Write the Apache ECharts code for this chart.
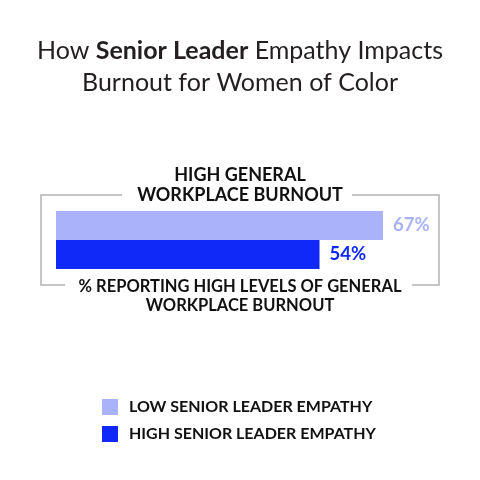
<!DOCTYPE html>
<html>
<head>
<meta charset="utf-8">
<script src="https://cdn.jsdelivr.net/npm/echarts@6/dist/echarts.min.js"></script>
<style>
  html, body { margin: 0; padding: 0; background: #fff; }
  #chart { width: 480px; height: 480px; }
</style>
</head>
<body>
<div id="chart"></div>
<script>
// data
const categories = ['High general workplace burnout'];
const seriesNames = ['LOW SENIOR LEADER EMPATHY', 'HIGH SENIOR LEADER EMPATHY'];
const lowEmpathy = [67];
const highEmpathy = [54];
const colors = ['#aab3f9', '#1028f8'];

const font = 'Lato';
const chart = echarts.init(document.getElementById('chart'));

const labelFor = (c) => ({
    show: true,
    position: 'right',
    distance: 10,
    formatter: '{c}%',
    color: c,
    fontFamily: font,
    fontWeight: 'bold',
    fontSize: 18.5
});

chart.setOption({
    color: colors,
    animation: false,
    title: {
        text: 'How {b|Senior Leader} Empathy Impacts\nBurnout for Women of Color',
        left: 'center',
        top: 30,
        textStyle: {
            fontFamily: font,
            fontSize: 25,
            fontWeight: 'normal',
            color: '#231f20',
            lineHeight: 32,
            rich: {
                b: { fontFamily: font, fontSize: 25, fontWeight: 'bold', color: '#231f20' }
            }
        }
    },
    legend: {
        data: seriesNames,
        orient: 'vertical',
        left: 97,
        top: 394,
        icon: 'rect',
        itemWidth: 16,
        itemHeight: 16,
        itemGap: 11,
        textStyle: { fontFamily: font, fontWeight: 'bold', fontSize: 16, color: '#111', padding: [0, 0, 0, 6] }
    },
    grid: { left: 56, right: 33.6, top: 211, height: 58 },
    xAxis: { type: 'value', min: 0, max: 80, show: false },
    yAxis: { type: 'category', data: categories, inverse: true, show: false },
    series: [
        { name: seriesNames[0], type: 'bar', data: lowEmpathy, barGap: '0%', barCategoryGap: '0%', label: labelFor(colors[0]) },
        { name: seriesNames[1], type: 'bar', data: highEmpathy, barGap: '0%', barCategoryGap: '0%', label: labelFor(colors[1]) }
    ],
    graphic: [
        { type: 'polyline', shape: { points: [[122, 195], [41, 195], [41, 285], [65, 285]] }, style: { stroke: '#b3b3b3', lineWidth: 1.5, fill: null } },
        { type: 'polyline', shape: { points: [[352, 195], [439, 195], [439, 285], [412, 285]] }, style: { stroke: '#b3b3b3', lineWidth: 1.5, fill: null } },
        { type: 'text', x: 240, y: 185, style: { text: 'HIGH GENERAL\nWORKPLACE BURNOUT', fontFamily: font, fontWeight: 'bold', fontSize: 18, lineHeight: 20, fill: '#111', align: 'center', verticalAlign: 'middle' } },
        { type: 'text', x: 240, y: 296, style: { text: '% REPORTING HIGH LEVELS OF GENERAL\nWORKPLACE BURNOUT', fontFamily: font, fontWeight: 'bold', fontSize: 16.5, lineHeight: 19, fill: '#111', align: 'center', verticalAlign: 'middle' } }
    ]
});
</script>
</body>
</html>
